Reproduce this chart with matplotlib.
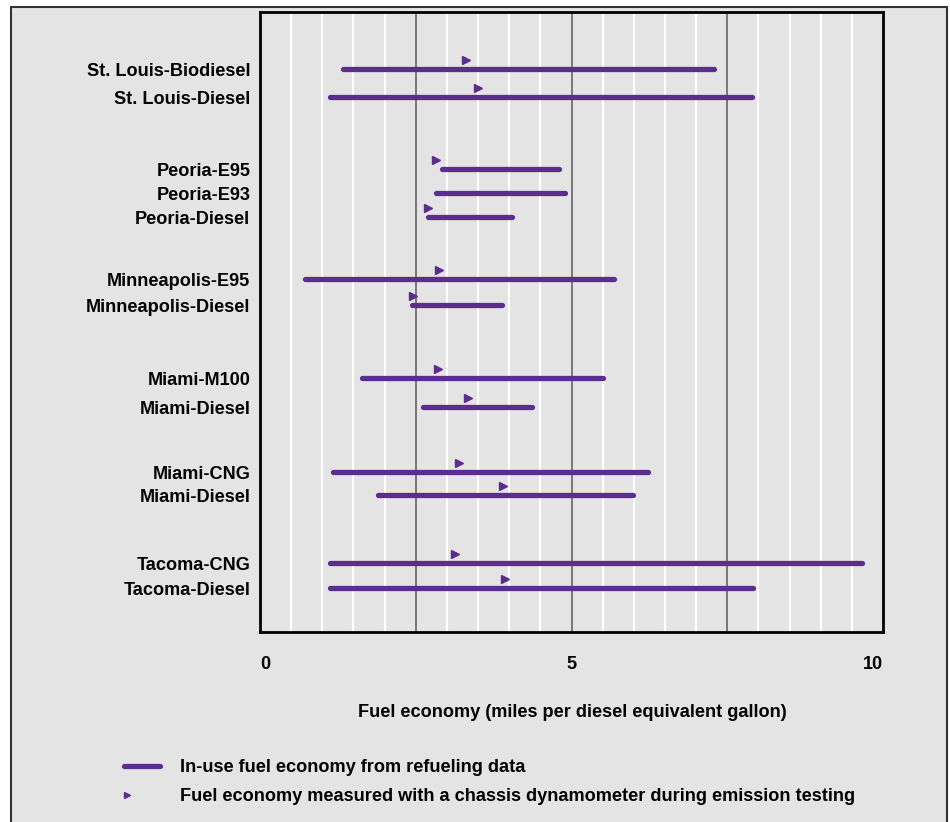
import matplotlib.pyplot as plt
import numpy as np
from matplotlib.lines import Line2D
from matplotlib.patches import Rectangle

# ---- data ----
vehicles = ["St. Louis-Biodiesel", "St. Louis-Diesel",
            "Peoria-E95", "Peoria-E93", "Peoria-Diesel",
            "Minneapolis-E95", "Minneapolis-Diesel",
            "Miami-M100", "Miami-Diesel",
            "Miami-CNG", "Miami-Diesel",
            "Tacoma-CNG", "Tacoma-Diesel"]

# in-use fuel economy range from refueling data (mpg diesel equivalent)
inuse_low = [1.33, 1.13, 2.92, 2.83, 2.70, 0.73, 2.44, 1.63, 2.61, 1.17, 1.90, 1.12, 1.12]
inuse_high = [7.28, 7.89, 4.80, 4.89, 4.05, 5.68, 3.88, 5.51, 4.37, 6.23, 5.99, 9.67, 7.91]
# chassis dynamometer result (none for Peoria-E93)
dyno = [3.30, 3.50, 2.83, np.nan, 2.69, 2.88, 2.46, 2.86, 3.34, 3.19, 3.90, 3.13, 3.93]

x_ticks = [0, 5, 10]

# ---- styles ----
PURPLE = "#5b2d8e"
BG = "#e4e4e4"
FS = 13.1
plt.rcParams.update({
    'font.family': ['Liberation Sans Narrow', 'Liberation Sans', 'DejaVu Sans'],
    'font.weight': 'bold',
    'font.size': FS,
})

# vertical row layout (rows grouped by city, gaps between groups)
rows = np.array([0, 28, 100, 124, 148, 210, 236, 309, 338, 403, 426, 494, 519])
tri_offset = 9.5

fig = plt.figure(figsize=(9.5, 8.22), dpi=100)
fig.patch.set_facecolor("white")
W, H = 950, 822

# grey panel with thin frame round the whole graphic
fig.add_artist(Rectangle((11 / W, -0.05), (947 - 11) / W, 1.05 - 7 / H,
                         transform=fig.transFigure, facecolor=BG,
                         edgecolor="#333333", linewidth=1.5, zorder=0))

ax = fig.add_axes([260 / W, 1 - 632 / H, (883 - 260) / W, (632 - 12) / H])
ax.set_facecolor(BG)

# vertical grid: white every 0.5, dark at 2.5 / 5 / 7.5
for gx in np.arange(0.5, 10, 0.5):
    if gx % 2.5 == 0:
        ax.axvline(gx, color="#6e6e6e", lw=1.3, zorder=1)
    else:
        ax.axvline(gx, color="white", lw=1.5, zorder=1)

for y, lo, hi, d in zip(rows, inuse_low, inuse_high, dyno):
    ax.plot([lo, hi], [y, y], color=PURPLE, lw=3.8, solid_capstyle="round", zorder=3)
    if not np.isnan(d):
        ax.plot(d, y - tri_offset, marker=">", color=PURPLE, ms=6, ls="none", zorder=4)

ax.set_xlim(0, 10)
ax.set_ylim(rows[-1] + 44, rows[0] - 57)

ax.set_yticks(rows)
ax.set_yticklabels(vehicles, fontsize=FS)
ax.set_xticks(x_ticks)
ax.set_xticklabels([str(t) for t in x_ticks], fontsize=FS)
xt = ax.get_xticklabels()
xt[0].set_ha("left")
xt[-1].set_ha("right")
ax.tick_params(axis="both", length=0)
ax.tick_params(axis="y", pad=7)
ax.tick_params(axis="x", pad=17)

for s in ax.spines.values():
    s.set_linewidth(2)
    s.set_color("black")

fig.text(572 / W, 1 - 712 / H, "Fuel economy (miles per diesel equivalent gallon)",
         ha="center", va="center", fontsize=FS)

# legend drawn by hand under the plot
fig.add_artist(Line2D([124 / W, 160 / W], [1 - 766 / H] * 2, transform=fig.transFigure,
                      color=PURPLE, lw=3.8, solid_capstyle="round"))
fig.add_artist(Line2D([127 / W], [1 - 795 / H], transform=fig.transFigure,
                      color=PURPLE, marker=">", ms=5, ls="none"))
fig.text(180 / W, 1 - 767 / H, "In-use fuel economy from refueling data",
         ha="left", va="center", fontsize=FS)
fig.text(180 / W, 1 - 796 / H,
         "Fuel economy measured with a chassis dynamometer during emission testing",
         ha="left", va="center", fontsize=FS)

fig.savefig("out.png", dpi=100, facecolor=fig.get_facecolor())
